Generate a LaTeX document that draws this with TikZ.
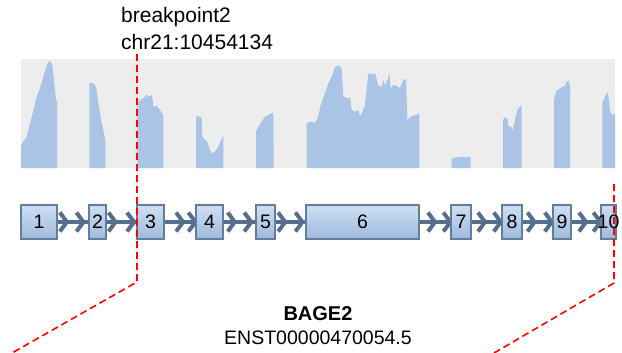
\documentclass[tikz,border=0pt]{standalone}
\usepackage{fontspec}
\setmainfont{Liberation Sans}
\usetikzlibrary{decorations.markings}
\pgfdeclarelayer{background}
\pgfsetlayers{background,main}
\definecolor{covblue}{RGB}{169,196,228}
\definecolor{trackgray}{RGB}{237,237,237}
\definecolor{intronblue}{RGB}{84,110,140}
\definecolor{exonline}{RGB}{100,125,155}
\definecolor{exontop}{RGB}{206,223,243}
\definecolor{exonbot}{RGB}{158,186,222}
\newcommand{\exchevron}{\draw[intronblue, line width=4pt, line join=miter] (-7pt,-9.5pt) -- (0pt,0pt) -- (-7pt,9.5pt);}

\begin{document}
\begin{tikzpicture}[
    x=1pt, y=-1pt,
    font=\fontsize{19.5}{24}\selectfont,
    exon/.style={draw=exonline, line width=1.2pt, top color=exontop, bottom color=exonbot, minimum height=34pt, inner sep=0pt},
    intron/.style 2 args={draw=intronblue, line width=4pt,
        decoration={markings, mark=at position #1 with {\exchevron}, mark=at position #2 with {\exchevron}},
        postaction=decorate},
    bpline/.style={red, line width=1.6pt, dash pattern=on 7pt off 4pt},
    cov/.style={fill=covblue, draw=none},
    label/.style={inner sep=0pt},
]
\useasboundingbox (0,0) rectangle (622,353);

% Coverage track
\fill[trackgray] (21,58.7) rectangle (615,168);
\fill[cov] (21,168) -- (21,145) -- (26.7,136.7) -- (31.7,116.7) -- (36.7,96.7) -- (41.7,83.3) -- (45,70) -- (47.7,63.3) -- (50,61) -- (52.3,65) -- (54.3,83.3) -- (56,100) -- (57,101.7) -- (57,168) -- cycle;
\fill[cov] (89.3,168) -- (89.3,83.3) -- (91.7,82.7) -- (95,85) -- (96.7,90) -- (98.3,103.3) -- (101.7,123.3) -- (104,133.3) -- (105.3,140) -- (105.3,168) -- cycle;
\fill[cov] (137.7,168) -- (137.7,103.3) -- (140,100) -- (143.3,98.3) -- (146.7,95) -- (148.3,96.7) -- (151.7,95) -- (152.7,100) -- (153.3,106.7) -- (156.7,106) -- (160,110) -- (163.3,115) -- (163.3,168) -- cycle;
\fill[cov] (196,168) -- (196,116) -- (200,116.7) -- (201.7,118.3) -- (202.3,136.7) -- (205,140) -- (207.3,141.7) -- (209.3,148.3) -- (211.7,153.3) -- (215,151.7) -- (218.3,146.7) -- (221.7,138.3) -- (223.3,136) -- (223.3,168) -- cycle;
\fill[cov] (256,168) -- (256,131.7) -- (258.3,126.7) -- (261.7,121.7) -- (265,116.7) -- (268.3,115) -- (271.7,113.3) -- (273.3,112.7) -- (273.7,168) -- cycle;
\fill[cov] (306.7,168) -- (306.7,123.3) -- (310,121.7) -- (315,122.7) -- (318.3,116.7) -- (320.7,105) -- (325,93.3) -- (328.3,83.3) -- (331.7,76.7) -- (335,66.7) -- (340,65.7) -- (341.7,70) -- (343.3,96.7) -- (348.3,98.3) -- (350,97.3) -- (351.7,110) -- (355,111.7) -- (358.3,110) -- (360,116.7) -- (361.7,113.3) -- (365,105) -- (368.3,73.3) -- (371.7,74) -- (375,73.3) -- (378.3,85) -- (381.7,86.7) -- (383.3,80) -- (385,85) -- (388.3,78.3) -- (389.3,71.7) -- (390.7,88.3) -- (393.3,85) -- (396.7,86) -- (400,88.3) -- (403.3,80) -- (406,79) -- (407.3,120) -- (411.7,116) -- (416.7,115) -- (419.3,113.3) -- (419.3,168) -- cycle;
\fill[cov] (451.7,168) -- (451.7,158.3) -- (456.7,157.3) -- (463.3,156.7) -- (470.7,157.3) -- (470.7,168) -- cycle;
\fill[cov] (503,168) -- (503,120) -- (505,117.3) -- (507.3,118.3) -- (508.3,126) -- (511.7,127.3) -- (512.7,130.7) -- (515,120) -- (517.3,110) -- (520,106.7) -- (521.7,105) -- (521.7,168) -- cycle;
\fill[cov] (554,168) -- (554,100) -- (556,91.7) -- (560,88.3) -- (565,86) -- (566.7,81.7) -- (569,80.7) -- (570,88.3) -- (570,168) -- cycle;
\fill[cov] (602.3,168) -- (602.3,102.7) -- (605,96.7) -- (607.3,91.7) -- (609,100) -- (610,111.7) -- (612.7,115) -- (615,113.3) -- (615,168) -- cycle;

% Exons
\node[exon, minimum width=36pt] (e1) at (39,222) {1};
\node[exon, minimum width=17pt] (e2) at (97.5,222) {2};
\node[exon, minimum width=27pt] (e3) at (150.5,222) {3};
\node[exon, minimum width=27pt] (e4) at (209.5,222) {4};
\node[exon, minimum width=19pt] (e5) at (265.5,222) {5};
\node[exon, minimum width=113pt] (e6) at (362.5,222) {6};
\node[exon, minimum width=20pt] (e7) at (461,222) {7};
\node[exon, minimum width=20pt] (e8) at (512,222) {8};
\node[exon, minimum width=18pt] (e9) at (562,222) {9};
\node[exon, minimum width=15pt] (e10) at (608.5,222) {\makebox[0pt]{10}};

% Introns
\begin{pgfonlayer}{background}
\draw[intron={0.3}{0.84}] (e1.east) -- (e2.west);
\draw[intron={0.3}{0.92}] (e2.east) -- (e3.west);
\draw[intron={0.6}{1.0}] (e3.east) -- (e4.west);
\draw[intron={0.35}{0.87}] (e4.east) -- (e5.west);
\draw[intron={0.32}{0.9}] (e5.east) -- (e6.west);
\draw[intron={0.5}{1.0}] (e6.east) -- (e7.west);
\draw[intron={0.45}{0.98}] (e7.east) -- (e8.west);
\draw[intron={0.4}{0.98}] (e8.east) -- (e9.west);
\draw[intron={0.5}{1.0}] (e9.east) -- (e10.west);
\end{pgfonlayer}

% Breakpoints
\coordinate (bpAtop) at (137,54);
\coordinate (bpAknee) at (137,282);
\coordinate (bpAend) at (12,353);
\draw[bpline] (bpAtop) -- (bpAknee) -- (bpAend);
\coordinate (bpBtop) at (614,184);
\coordinate (bpBknee) at (614,283);
\coordinate (bpBend) at (494,353);
\draw[bpline] (bpBtop) -- (bpBknee) -- (bpBend);

% Labels
\node[label, anchor=base west, font=\fontsize{21}{24}\selectfont] (bpname) at (121,23) {breakpoint2};
\node[label, anchor=base west, font=\fontsize{21}{24}\selectfont] (bppos) at (121,50) {chr21:10454134};
\node[label, anchor=base, font=\fontsize{20}{24}\selectfont\bfseries] (gene) at (318,320.5) {BAGE2};
\node[label, anchor=base] (transcript) at (318,344) {ENST00000470054.5};

\end{tikzpicture}
\end{document}
